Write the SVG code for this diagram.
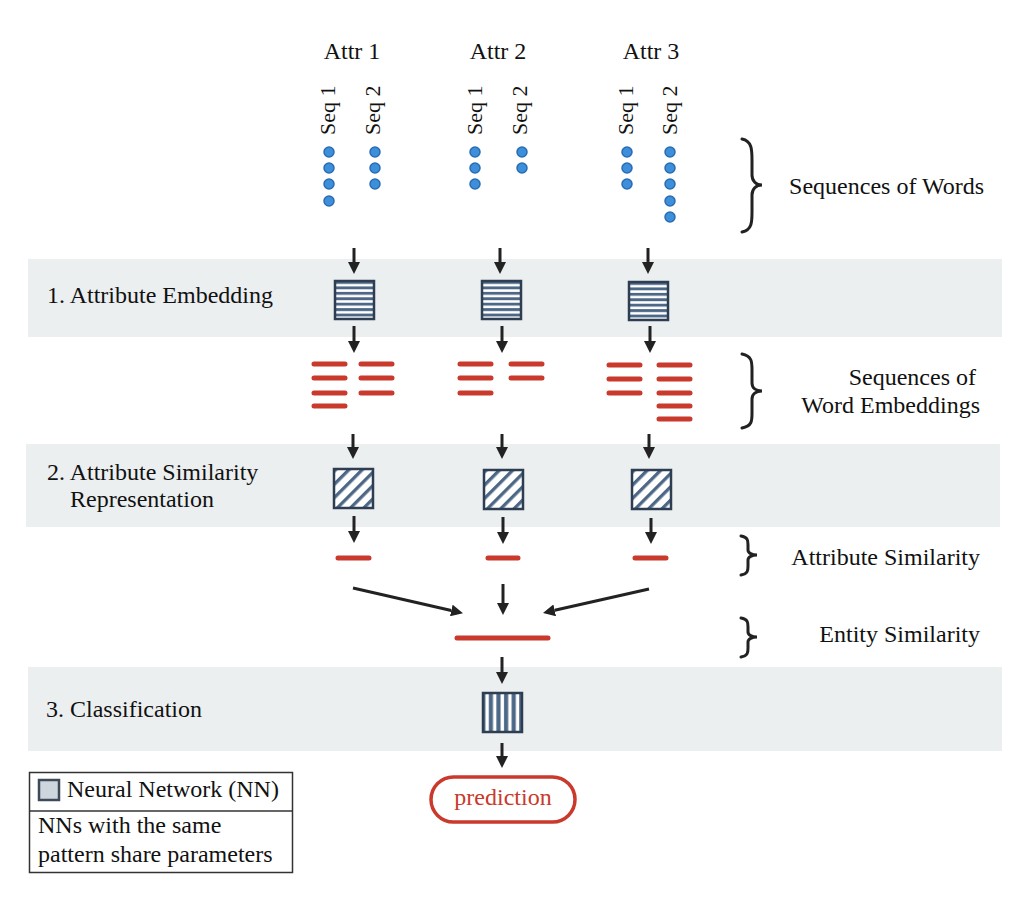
<svg xmlns="http://www.w3.org/2000/svg" width="1031" height="897" viewBox="0 0 1031 897">
<style>
text{font-family:"Liberation Serif","Times New Roman",serif;fill:#111;}
.lbl{font-size:24px;}
.seq{font-size:22px;}
.band{fill:#eceff0;}
.dot{fill:#3d8fdb;stroke:#2a6cb0;stroke-width:1.5;}
.red{stroke:#c9392c;stroke-width:5;stroke-linecap:round;fill:none;}
.arr{stroke:#222;stroke-width:3;fill:none;marker-end:url(#ah);}
.brace{stroke:#222;stroke-width:3;fill:none;stroke-linecap:round;}
.nn{stroke:#2e3e52;stroke-width:2.5;}
</style>
<defs>
<marker id="ah" markerUnits="userSpaceOnUse" markerWidth="12" markerHeight="12" viewBox="0 0 12 12" refX="0" refY="6" orient="auto">
<path d="M0,0 L12,6 L0,12 z" fill="#222"/>
</marker>
<pattern id="hstripe" patternUnits="userSpaceOnUse" width="40" height="5.43">
<rect width="40" height="5.43" fill="#fff"/>
<rect width="40" height="2.9" fill="#4d6787"/>
</pattern>
<pattern id="vstripe" patternUnits="userSpaceOnUse" width="7.6" height="40">
<rect width="7.6" height="40" fill="#4d6787"/>
<rect x="2.4" width="3.4" height="40" fill="#fff"/>
</pattern>
<pattern id="dstripe" patternUnits="userSpaceOnUse" width="9.4" height="20" patternTransform="rotate(45)">
<rect width="9.4" height="20" fill="#fff"/>
<rect width="3.3" height="20" fill="#4d6787"/>
</pattern>
</defs>
<rect width="1031" height="897" fill="#fff"/>

<g id="bands">
<rect class="band" x="28" y="259" width="974" height="78"/>
<rect class="band" x="26" y="444" width="974" height="83"/>
<rect class="band" x="28" y="667" width="974" height="84"/>
</g>

<g id="attr-labels">
<text class="lbl" x="352" y="59" text-anchor="middle">Attr 1</text>
<text class="lbl" x="498" y="59" text-anchor="middle">Attr 2</text>
<text class="lbl" x="651" y="59" text-anchor="middle">Attr 3</text>
</g>

<g id="seq-labels">
<text class="seq" transform="translate(335,135) rotate(-90)">Seq 1</text>
<text class="seq" transform="translate(380,135) rotate(-90)">Seq 2</text>
<text class="seq" transform="translate(482,135) rotate(-90)">Seq 1</text>
<text class="seq" transform="translate(527,135) rotate(-90)">Seq 2</text>
<text class="seq" transform="translate(633,135) rotate(-90)">Seq 1</text>
<text class="seq" transform="translate(677,135) rotate(-90)">Seq 2</text>
</g>

<g id="words">
<circle class="dot" cx="329" cy="152" r="5"/><circle class="dot" cx="329" cy="168" r="5"/><circle class="dot" cx="329" cy="184" r="5"/><circle class="dot" cx="329" cy="201" r="5"/>
<circle class="dot" cx="375" cy="152" r="5"/><circle class="dot" cx="375" cy="168" r="5"/><circle class="dot" cx="375" cy="184" r="5"/>
<circle class="dot" cx="475" cy="152" r="5"/><circle class="dot" cx="475" cy="168" r="5"/><circle class="dot" cx="475" cy="184" r="5"/>
<circle class="dot" cx="522" cy="152" r="5"/><circle class="dot" cx="522" cy="168" r="5"/>
<circle class="dot" cx="627" cy="152" r="5"/><circle class="dot" cx="627" cy="168" r="5"/><circle class="dot" cx="627" cy="184" r="5"/>
<circle class="dot" cx="670" cy="152" r="5"/><circle class="dot" cx="670" cy="168" r="5"/><circle class="dot" cx="670" cy="184" r="5"/><circle class="dot" cx="670" cy="201" r="5"/><circle class="dot" cx="670" cy="217" r="5"/>
</g>

<g id="embed-nn">
<g id="embed-nn-1" transform="translate(335,281)"><rect class="nn" width="39" height="38" fill="url(#hstripe)"/></g>
<g id="embed-nn-2" transform="translate(482,281)"><rect class="nn" width="39" height="38" fill="url(#hstripe)"/></g>
<g id="embed-nn-3" transform="translate(629,282)"><rect class="nn" width="39" height="38" fill="url(#hstripe)"/></g>
</g>

<g id="word-embeddings">
<path class="red" d="M314,364H345M314,378H345M314,393H345M314,406H345"/>
<path class="red" d="M361,364H392M361,378H392M361,393H392"/>
<path class="red" d="M460,364H491M460,378H491M460,393H491"/>
<path class="red" d="M511,364H542M511,378H542"/>
<path class="red" d="M609,365H640M609,379H640M609,393H640"/>
<path class="red" d="M659,365H690M659,379H690M659,393H690M659,406H690M659,419H690"/>
</g>

<g id="sim-nn">
<g id="sim-nn-1" transform="translate(334,469)"><rect class="nn" width="39" height="39" fill="url(#dstripe)"/></g>
<g id="sim-nn-2" transform="translate(484,470)"><rect class="nn" width="39" height="39" fill="url(#dstripe)"/></g>
<g id="sim-nn-3" transform="translate(632,470)"><rect class="nn" width="39" height="39" fill="url(#dstripe)"/></g>
</g>

<g id="attr-sim">
<path class="red" d="M338,558H369M488,558H518M635,558H666"/>
</g>

<g id="entity-sim">
<path class="red" d="M457,638H548"/>
</g>

<g id="class-nn" transform="translate(483,693)"><rect class="nn" width="39" height="39" fill="url(#vstripe)"/></g>

<g id="prediction">
<rect x="431" y="777" width="144" height="45" rx="22.5" fill="#fff" stroke="#c9392c" stroke-width="3.5"/>
<text class="lbl" x="503" y="805" text-anchor="middle" style="fill:#c9392c">prediction</text>
</g>

<g id="connectors">
<path class="arr" d="M354,248V262"/>
<path class="arr" d="M500,248V262"/>
<path class="arr" d="M648,248V262"/>
<path class="arr" d="M354,326V341"/>
<path class="arr" d="M502,326V341"/>
<path class="arr" d="M650,326V341"/>
<path class="arr" d="M353,434V447"/>
<path class="arr" d="M502,434V447"/>
<path class="arr" d="M649,434V447"/>
<path class="arr" d="M354,516V531"/>
<path class="arr" d="M503,517V532"/>
<path class="arr" d="M651,518V532"/>
<path class="arr" d="M353,588L451.3,610.5"/>
<path class="arr" d="M503,584V603"/>
<path class="arr" d="M649,589L554.7,610.3"/>
<path class="arr" d="M502,657V672"/>
<path class="arr" d="M502,743V756"/>
</g>

<g id="braces">
<path class="brace" d="M742,139 C752,141 752,150 752,160 L752,175 C752,181 756,185 762,185 C756,185 752,189 752,195 L752,212 C752,222 752,230 742,232"/>
<path class="brace" d="M742,354 C752,356 752,362 752,370 L752,383 C752,388 756,391 762,391 C756,391 752,394 752,399 L752,413 C752,421 752,426 742,428"/>
<path class="brace" d="M741,536 C748,537 748,541 748,545 L748,550 C748,553 752,555 757,555 C752,555 748,557 748,560 L748,566 C748,570 748,574 741,575"/>
<path class="brace" d="M741,618 C748,619 748,623 748,627 L748,632 C748,635 752,637 757,637 C752,637 748,639 748,642 L748,648 C748,652 748,656 741,657"/>
</g>

<g id="right-labels">
<text class="lbl" x="984" y="194" text-anchor="end">Sequences of Words</text>
<text class="lbl" x="976" y="385" text-anchor="end">Sequences of</text>
<text class="lbl" x="980" y="413" text-anchor="end">Word Embeddings</text>
<text class="lbl" x="980" y="565" text-anchor="end">Attribute Similarity</text>
<text class="lbl" x="980" y="642" text-anchor="end">Entity Similarity</text>
</g>

<g id="stage-labels">
<text class="lbl" x="47" y="303">1. Attribute Embedding</text>
<text class="lbl" x="47" y="480">2. Attribute Similarity</text>
<text class="lbl" x="70" y="507">Representation</text>
<text class="lbl" x="46" y="717">3. Classification</text>
</g>

<g id="legend">
<rect x="29.5" y="772.5" width="263" height="100" fill="#fff" stroke="#333" stroke-width="1.5"/>
<line x1="29.5" y1="811" x2="292.5" y2="811" stroke="#333" stroke-width="1.5"/>
<rect x="39" y="780" width="20" height="20" fill="#cfd5dc" stroke="#3d4a5a" stroke-width="2.5"/>
<text class="lbl" x="67" y="797">Neural Network (NN)</text>
<text class="lbl" x="38" y="833">NNs with the same</text>
<text class="lbl" x="38" y="862">pattern share parameters</text>
</g>
</svg>
